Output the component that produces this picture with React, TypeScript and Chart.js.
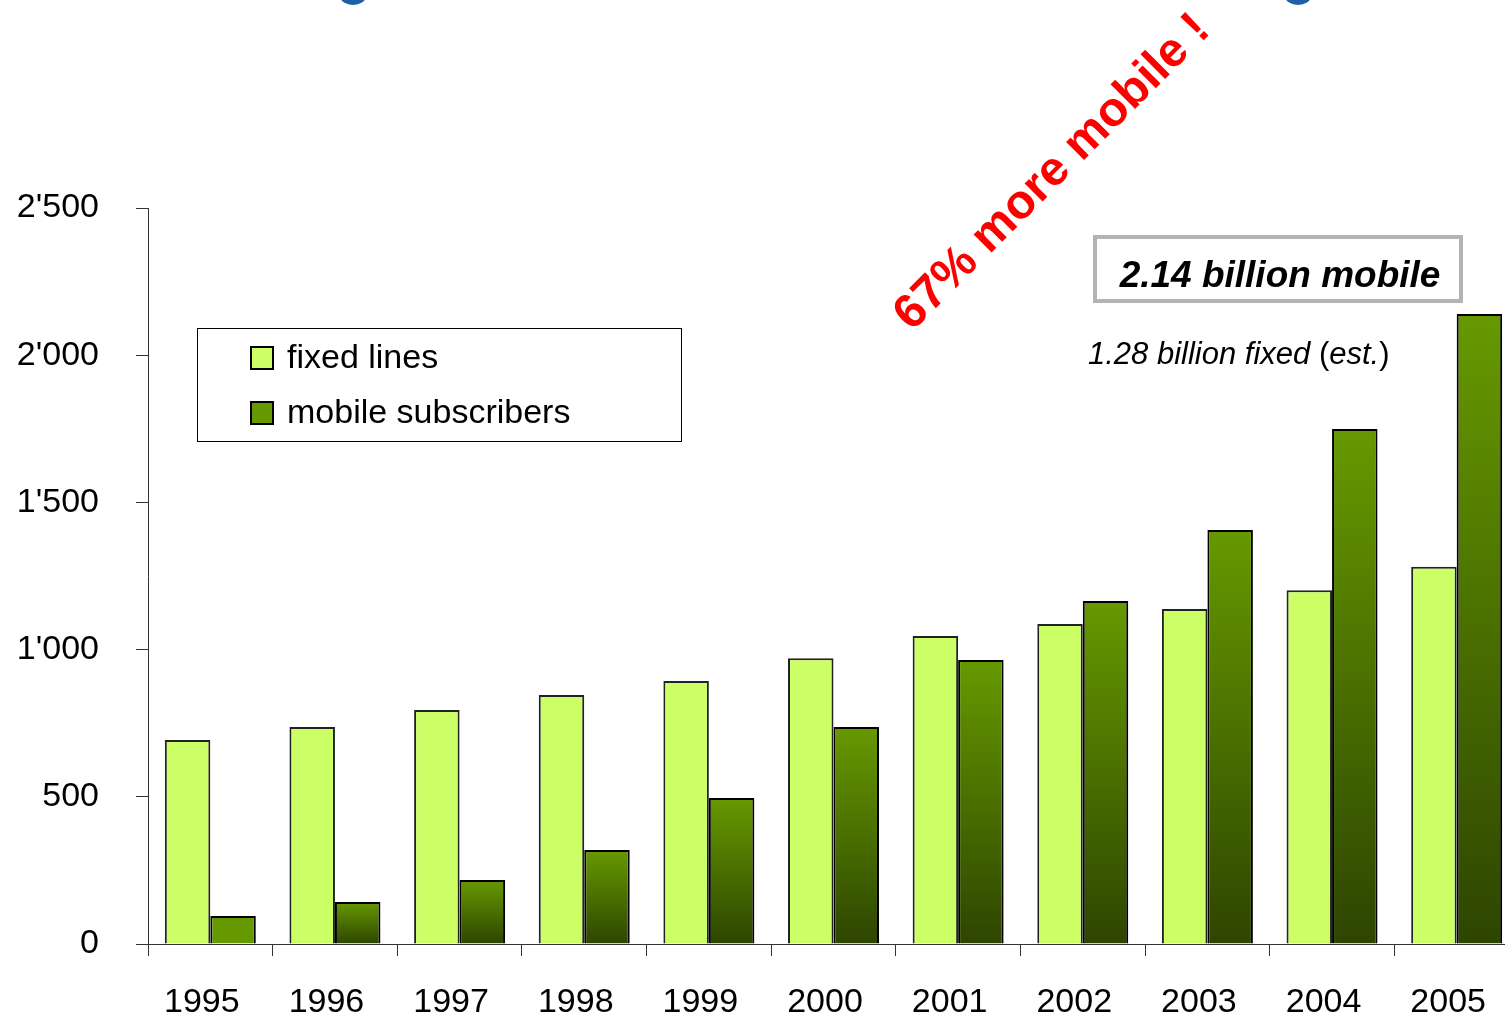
import React, { useEffect, useRef } from "react";
import { Chart, registerables } from "chart.js";

Chart.register(...registerables);

const categories = ["1995", "1996", "1997", "1998", "1999", "2000", "2001", "2002", "2003", "2004", "2005"];
const fixedLines = [693, 737, 795, 846, 893, 971, 1046, 1087, 1138, 1202, 1281];
const mobileSubscribers = [95, 143, 217, 319, 496, 737, 965, 1165, 1406, 1749, 2140];
const seriesLabels = ["fixed lines", "mobile subscribers"];
const yMax = 2500;
const yStep = 500;
const headline = "67% more mobile !";
const boxNote = "2.14 billion mobile";
const fixedNote = "1.28 billion fixed ";

const FONT = '"Liberation Sans", Arial, sans-serif';
const FIXED_COLOR = "#ccff66";
const MOBILE_TOP = "#669900";
const MOBILE_BOTTOM = "#2e4500";

function fmt(v: number): string {
  const s = String(Math.round(v));
  return s.length > 3 ? s.slice(0, s.length - 3) + "'" + s.slice(-3) : s;
}

const overlayPlugin = {
  id: "overlay",
  afterDraw(chart: any) {
    const ctx = chart.ctx as CanvasRenderingContext2D;
    ctx.save();
    // partial title glyphs at top (cut off)
    ctx.fillStyle = "#1f5fa8";
    ctx.beginPath();
    ctx.ellipse(353, -4, 13, 9, 0, 0, Math.PI);
    ctx.fill();
    ctx.beginPath();
    ctx.ellipse(1298, -4, 13, 9, 0, 0, Math.PI);
    ctx.fill();

    // legend
    const lx = 197, ly = 328, lw = 484, lh = 113;
    ctx.fillStyle = "#ffffff";
    ctx.fillRect(lx, ly, lw, lh);
    ctx.strokeStyle = "#000";
    ctx.lineWidth = 1;
    ctx.strokeRect(lx + 0.5, ly + 0.5, lw, lh);
    const items = [
      { label: chart.data.datasets[0].label, color: FIXED_COLOR, y: 358 },
      { label: chart.data.datasets[1].label, color: MOBILE_TOP, y: 413 },
    ];
    ctx.font = `34px ${FONT}`;
    ctx.textBaseline = "middle";
    items.forEach((it) => {
      ctx.fillStyle = it.color;
      ctx.fillRect(251, it.y - 11, 22, 22);
      ctx.strokeStyle = "#000";
      ctx.lineWidth = 2;
      ctx.strokeRect(251, it.y - 11, 22, 22);
      ctx.fillStyle = "#000";
      ctx.fillText(it.label, 287, it.y + 1);
    });

    // red rotated headline
    ctx.save();
    ctx.translate(912, 332);
    ctx.rotate((-45 * Math.PI) / 180);
    ctx.fillStyle = "#ff0000";
    ctx.textBaseline = "alphabetic";
    ctx.font = `bold 48px ${FONT}`;
    ctx.fillText(headline, 0, 0);
    ctx.restore();

    // box note
    ctx.strokeStyle = "#b3b3b3";
    ctx.lineWidth = 4;
    ctx.strokeRect(1095, 237, 366, 64);
    ctx.fillStyle = "#000";
    ctx.font = `italic bold 37px ${FONT}`;
    ctx.textAlign = "center";
    ctx.textBaseline = "middle";
    ctx.fillText(boxNote, 1280, 277);

    // fixed note
    ctx.textAlign = "left";
    ctx.textBaseline = "middle";
    let x = 1088;
    const yy = 355;
    ctx.font = `italic 31px ${FONT}`;
    ctx.fillText(fixedNote, x, yy);
    x += ctx.measureText(fixedNote).width;
    ctx.font = `31px ${FONT}`;
    ctx.fillText("(", x, yy);
    x += ctx.measureText("(").width;
    ctx.font = `italic 31px ${FONT}`;
    ctx.fillText("est.", x, yy);
    x += ctx.measureText("est.").width;
    ctx.font = `31px ${FONT}`;
    ctx.fillText(")", x, yy);
    ctx.restore();
  },
};

function mobileFill(c: any) {
  const chart = c.chart;
  const ys = chart.scales && chart.scales.y;
  if (!ys || c.type !== "data") return MOBILE_TOP;
  const v = c.parsed ? c.parsed.y : c.raw;
  const top = ys.getPixelForValue(v);
  const bottom = ys.getPixelForValue(0);
  if (!isFinite(top) || !isFinite(bottom) || bottom - top < 35) return MOBILE_TOP;
  const g = chart.ctx.createLinearGradient(0, top, 0, bottom);
  g.addColorStop(0, MOBILE_TOP);
  g.addColorStop(1, MOBILE_BOTTOM);
  return g;
}

export default function App() {
  const ref = useRef<HTMLCanvasElement | null>(null);
  useEffect(() => {
    if (!ref.current) return;
    const chart = new Chart(ref.current, {
      type: "bar",
      data: {
        labels: categories,
        datasets: [
          {
            label: seriesLabels[0],
            data: fixedLines,
            backgroundColor: FIXED_COLOR,
            borderColor: "#222",
            borderWidth: 2,
            categoryPercentage: 0.73,
            barPercentage: 1,
          },
          {
            label: seriesLabels[1],
            data: mobileSubscribers,
            backgroundColor: mobileFill,
            borderColor: "#000",
            borderWidth: 2,
            categoryPercentage: 0.73,
            barPercentage: 1,
          },
        ],
      },
      options: {
        responsive: false,
        animation: false,
        devicePixelRatio: 1,
        layout: { padding: { top: 208, right: 0, left: 0, bottom: 0 } },
        plugins: { legend: { display: false }, tooltip: { enabled: false }, title: { display: false } },
        scales: {
          x: {
            offset: true,
            grid: { display: true, drawOnChartArea: false, drawTicks: true, tickLength: 12, offset: true, color: "#333" },
            border: { display: true, color: "#333", width: 1 },
            ticks: {
              color: "#000",
              font: { family: FONT, size: 34 },
              padding: 26,
              maxRotation: 0,
              callback: function (this: any, v: any) {
                return this.getLabelForValue(v) + "\u2002";
              },
            },
            afterFit: (s: any) => {
              s.height = 75;
              s.paddingLeft = 0;
              s.paddingRight = 0;
            },
          },
          y: {
            min: 0,
            max: yMax,
            ticks: {
              stepSize: yStep,
              color: "#000",
              font: { family: FONT, size: 34 },
              padding: 37,
              callback: (v: any) => fmt(Number(v)),
            },
            grid: { display: true, drawOnChartArea: false, drawTicks: true, tickLength: 12, color: "#333" },
            border: { display: true, color: "#333", width: 1 },
            afterFit: (s: any) => {
              s.width = 148;
              s.paddingTop = 0;
              s.paddingBottom = 0;
            },
          },
        },
      },
      plugins: [overlayPlugin],
    });
    return () => chart.destroy();
  }, []);
  return (
    <div style={{ position: "fixed", left: 0, top: 0, width: 1505, height: 1019, overflow: "hidden", background: "#fff" }}>
      <canvas ref={ref} width={1519} height={1019} style={{ display: "block" }} />
    </div>
  );
}
